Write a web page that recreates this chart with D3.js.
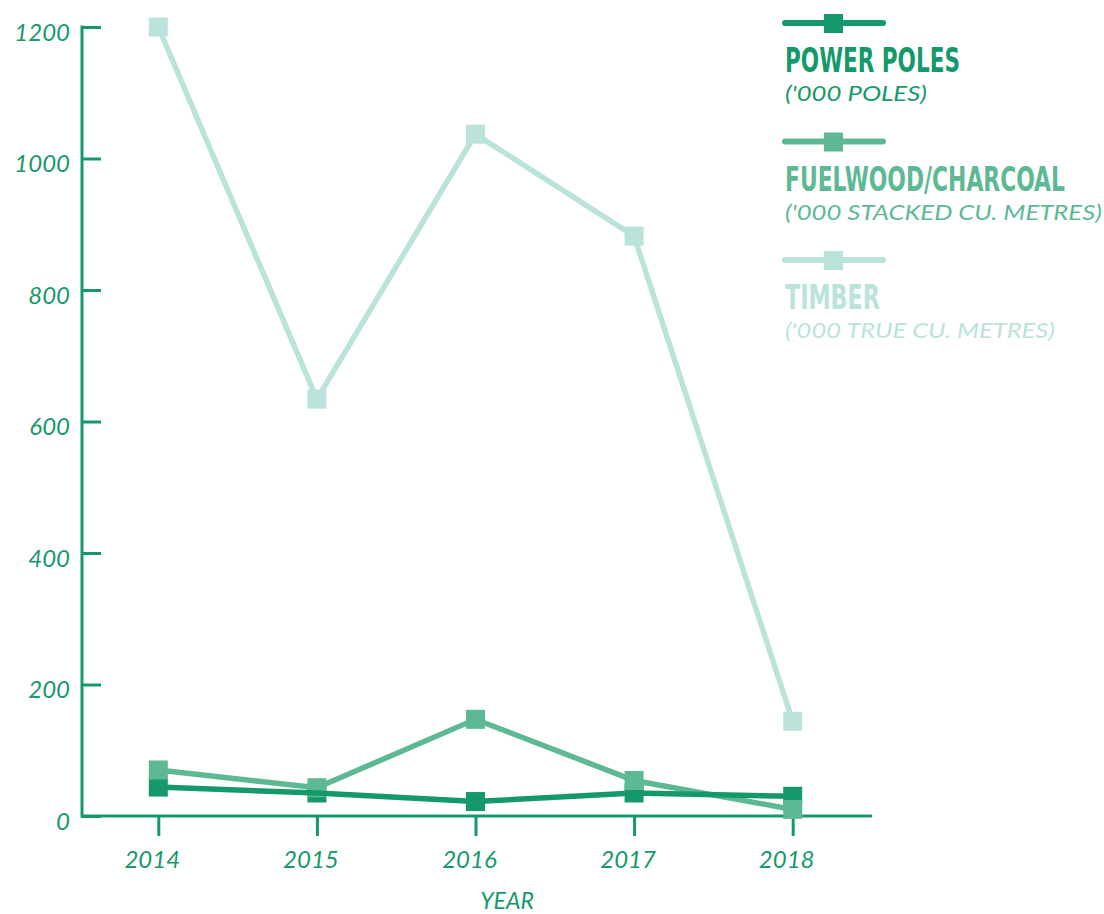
<!DOCTYPE html>
<html>
<head>
<meta charset="utf-8">
<script src="https://cdn.jsdelivr.net/npm/d3@7"></script>
<style>
html,body{margin:0;padding:0;background:#fff;}
svg{display:block;}
</style>
</head>
<body>
<svg id="chart" width="1104" height="914"></svg>
<script>
const years = ["2014","2015","2016","2017","2018"];
const powerPoles = [44, 35, 22, 35, 30];
const fuelwood = [70, 43, 147, 54, 10];
const timber = [1200, 634, 1037, 882, 144];
const yTicks = [0, 200, 400, 600, 800, 1000, 1200];
const seriesNames = ["POWER POLES", "FUELWOOD/CHARCOAL", "TIMBER"];
const seriesUnits = ["('000 POLES)", "('000 STACKED CU. METRES)", "('000 TRUE CU. METRES)"];
const xTitle = "YEAR";

const axisColor = "#16996a";
const colors = {power: "#16996a", fuel: "#5db993", timber: "#bae3dc"};

const svg = d3.select("#chart");
const x = d3.scalePoint().domain(years).range([79, 872]).padding(0.5);
const y = d3.scaleLinear().domain([0, 1200]).range([816, 27]);

// Y axis
const yAxis = d3.axisRight(y).tickValues(yTicks).tickSize(19).tickFormat(() => "");
const gy = svg.append("g").attr("transform", "translate(82,0)").call(yAxis);
gy.select(".domain").remove();
gy.selectAll(".tick line").attr("stroke", axisColor).attr("stroke-width", 3);
svg.append("line").attr("x1", 82).attr("x2", 82).attr("y1", y(1200) - 1.5).attr("y2", y(0) + 1.5)
  .attr("stroke", axisColor).attr("stroke-width", 3);
svg.append("g").selectAll("text").data(yTicks).join("text")
  .attr("x", 70).attr("y", d => y(d) + 13.7)
  .attr("text-anchor", "end")
  .attr("font-family", "Lato").attr("font-style", "italic").attr("font-size", 24)
  .attr("fill", axisColor).text(d => d);

// X axis
const xAxis = d3.axisBottom(x).tickSize(20).tickFormat(() => "");
const gx = svg.append("g").attr("transform", "translate(0,816)").call(xAxis);
gx.select(".domain").remove();
gx.selectAll(".tick line").attr("stroke", axisColor).attr("stroke-width", 3);
svg.append("line").attr("x1", 81).attr("x2", 872).attr("y1", 816).attr("y2", 816)
  .attr("stroke", axisColor).attr("stroke-width", 3);
svg.append("g").selectAll("text").data(years).join("text")
  .attr("x", d => x(d) - 6).attr("y", 868)
  .attr("text-anchor", "middle")
  .attr("font-family", "Lato").attr("font-style", "italic").attr("font-size", 24)
  .attr("fill", axisColor).text(d => d);
svg.append("text").attr("x", 507).attr("y", 909)
  .attr("text-anchor", "middle")
  .attr("font-family", "Lato").attr("font-style", "italic").attr("font-size", 23)
  .attr("fill", axisColor).text(xTitle);

const line = d3.line().x((d, i) => x(years[i])).y(d => y(d));
const ms = 19;
function drawLine(vals, color) {
  svg.append("path").datum(vals).attr("d", line)
    .attr("fill", "none").attr("stroke", color).attr("stroke-width", 5.5)
    .attr("stroke-linejoin", "miter");
}
function drawMarkers(vals, color) {
  svg.append("g").selectAll("rect").data(vals).join("rect")
    .attr("x", (d, i) => x(years[i]) - ms / 2).attr("y", d => y(d) - ms / 2)
    .attr("width", ms).attr("height", ms).attr("fill", color);
}
drawLine(timber, colors.timber);
drawMarkers(timber, colors.timber);
drawMarkers(powerPoles, colors.power);
drawLine(fuelwood, colors.fuel);
drawMarkers(fuelwood, colors.fuel);
drawLine(powerPoles, colors.power);

// Legend
const legColors = [colors.power, colors.fuel, colors.timber];
const titleWidths = [175, 280, 95];
const unitWidths = [142, 317, 270];
const leg = svg.append("g");
function fitText(sel, target, tx, ty) {
  const len = sel.node().getComputedTextLength();
  const s = len > 0 ? target / len : 1;
  sel.attr("transform", `translate(${tx},${ty}) scale(${s},1)`);
}
seriesNames.forEach((name, i) => {
  const oy = i * 118.5;
  leg.append("line").attr("x1", 785).attr("x2", 883).attr("y1", 23 + oy).attr("y2", 23 + oy)
    .attr("stroke", legColors[i]).attr("stroke-width", 6).attr("stroke-linecap", "round");
  leg.append("rect").attr("x", 824).attr("y", 14 + oy).attr("width", ms).attr("height", ms)
    .attr("fill", legColors[i]);
  const t = leg.append("text").attr("x", 0).attr("y", 0)
    .attr("font-family", "Liberation Sans Narrow, DejaVu Sans Condensed, sans-serif")
    .attr("font-weight", "bold").attr("font-size", 34)
    .attr("fill", legColors[i]).text(name);
  fitText(t, titleWidths[i], 785, 72 + oy);
  const u = leg.append("text").attr("x", 0).attr("y", 0)
    .attr("font-family", "Lato").attr("font-style", "italic").attr("font-size", 21)
    .attr("fill", legColors[i]).text(seriesUnits[i]);
  fitText(u, unitWidths[i], 785, 101 + oy);
});
</script>
</body>
</html>
